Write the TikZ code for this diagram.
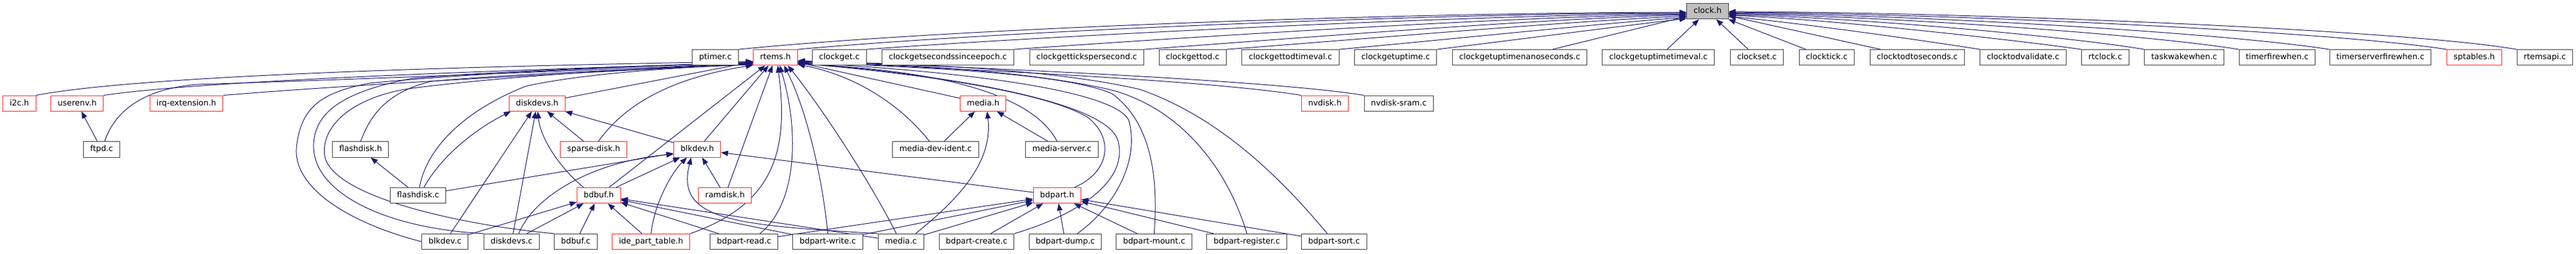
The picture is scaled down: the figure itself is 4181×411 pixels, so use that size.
\documentclass[tikz,border=0pt]{standalone}
\usepackage{fontspec}
\usetikzlibrary{arrows.meta,backgrounds}
\newfontfamily\dejavu{DejaVu Sans}
\definecolor{edgeblue}{RGB}{25,25,112}
\definecolor{boxgray}{RGB}{64,64,64}
\definecolor{truncred}{RGB}{255,40,40}
\definecolor{rootgray}{RGB}{191,191,191}
\begin{document}
\begin{tikzpicture}[
		x=0.75pt, y=-0.75pt,
		incbox/.style={draw=boxgray, line width=0.75pt, fill=white, minimum height=18.9pt,
			inner xsep=8.2pt, inner ysep=0pt, text height=7.2pt, text depth=2.1pt,
			font=\dejavu\fontsize{9.7pt}{11pt}\selectfont},
		truncbox/.style={incbox, draw=truncred},
		rootbox/.style={incbox, fill=rootgray},
		incl/.style={draw=edgeblue, line width=0.75pt, -{Triangle[length=8.5pt,width=6.5pt]}}
		]
		\useasboundingbox (0,0) rectangle (4181,411);
		% level 0
		\node[rootbox] (clockh) at (2771.5,18.3) {clock.h};
		% level 1
		\node[incbox] (ptimerc) at (1161,93.2) {ptimer.c};
		\node[truncbox] (rtemsh) at (1258.5,93.2) {rtems.h};
		\node[incbox] (clockgetc) at (1362.3,93.2) {clockget.c};
		\node[incbox] (cgsse) at (1538.4,93.2) {clockgetsecondssinceepoch.c};
		\node[incbox] (cgtps) at (1763.8,93.2) {clockgettickspersecond.c};
		\node[incbox] (cgtod) at (1935.7,93.2) {clockgettod.c};
		\node[incbox] (cgtodtv) at (2094.5,93.2) {clockgettodtimeval.c};
		\node[incbox] (cgup) at (2265.2,93.2) {clockgetuptime.c};
		\node[incbox] (cgupns) at (2466.5,93.2) {clockgetuptimenanoseconds.c};
		\node[incbox] (cguptv) at (2691.7,93.2) {clockgetuptimetimeval.c};
		\node[incbox] (cset) at (2851.6,93.2) {clockset.c};
		\node[incbox] (ctick) at (2964.9,93.2) {clocktick.c};
		\node[incbox] (ctts) at (3111.8,93.2) {clocktodtoseconds.c};
		\node[incbox] (ctv) at (3283.6,93.2) {clocktodvalidate.c};
		\node[incbox] (rtclock) at (3417,93.2) {rtclock.c};
		\node[incbox] (taskwake) at (3545,93.2) {taskwakewhen.c};
		\node[incbox] (timerfire) at (3696,93.2) {timerfirewhen.c};
		\node[incbox] (timerserver) at (3863.5,93.2) {timerserverfirewhen.c};
		\node[truncbox] (sptables) at (4015.8,93.2) {sptables.h};
		\node[incbox] (rtemsapi) at (4130.3,93.2) {rtemsapi.c};
		% level 2
		\node[truncbox] (i2ch) at (31.5,167.7) {i2c.h};
		\node[truncbox] (userenvh) at (125.2,167.7) {userenv.h};
		\node[truncbox] (irqexth) at (302.4,167.7) {irq-extension.h};
		\node[truncbox] (diskdevsh) at (871.9,167.7) {diskdevs.h};
		\node[truncbox] (mediah) at (1595.7,167.7) {media.h};
		\node[truncbox] (nvdiskh) at (2150.4,167.7) {nvdisk.h};
		\node[incbox] (nvdisksramc) at (2270.3,167.7) {nvdisk-sram.c};
		% level 3
		\node[incbox] (ftpdc) at (165,242.5) {ftpd.c};
		\node[incbox] (flashdiskh) at (585.3,242.5) {flashdisk.h};
		\node[truncbox] (sparsediskh) at (963.6,242.5) {sparse-disk.h};
		\node[truncbox] (blkdevh) at (1131.7,242.5) {blkdev.h};
		\node[incbox] (mediadevidentc) at (1518.5,242.5) {media-dev-ident.c};
		\node[incbox] (mediaserverc) at (1723.6,242.5) {media-server.c};
		% level 4
		\node[incbox] (flashdiskc) at (678.6,317) {flashdisk.c};
		\node[truncbox] (bdbufh) at (971.8,317) {bdbuf.h};
		\node[truncbox] (ramdiskh) at (1176.8,317) {ramdisk.h};
		\node[truncbox] (bdparth) at (1715.8,317) {bdpart.h};
		% level 5
		\node[incbox] (blkdevc) at (722.3,392) {blkdev.c};
		\node[incbox] (diskdevsc) at (830.3,392) {diskdevs.c};
		\node[incbox] (bdbufc) at (934.4,392) {bdbuf.c};
		\node[truncbox] (idepart) at (1056.7,392) {ide\_part\_table.h};
		\node[incbox] (bdpartreadc) at (1207.6,392) {bdpart-read.c};
		\node[incbox] (bdpartwritec) at (1343.5,392) {bdpart-write.c};
		\node[incbox] (mediac) at (1462.3,392) {media.c};
		\node[incbox] (bdpartcreatec) at (1585,392) {bdpart-create.c};
		\node[incbox] (bdpartdumpc) at (1729,392) {bdpart-dump.c};
		\node[incbox] (bdpartmountc) at (1873.2,392) {bdpart-mount.c};
		\node[incbox] (bdpartregisterc) at (2023.6,392) {bdpart-register.c};
		\node[incbox] (bdpartsortc) at (2165.2,392) {bdpart-sort.c};

		\begin{scope}[on background layer]
		% into clock.h
		\draw[incl] (ptimerc.north east) .. controls (1550,45) and (2300,20) .. (clockh.183);
		\draw[incl] (rtemsh.north east) .. controls (1650,48) and (2350,22) .. (clockh.184);
		\draw[incl] (clockgetc.north east) .. controls (1700,58) and (2400,24) .. (clockh.186);
		\draw[incl] (cgsse.north east) .. controls (1900,62) and (2450,27) .. (clockh.188);
		\draw[incl] (cgtps.north east) .. controls (2050,66) and (2500,30) .. (clockh.190);
		\draw[incl] (cgtod.north east) .. controls (2180,66) and (2550,34) .. (clockh.193);
		\draw[incl] (cgtodtv.north east) .. controls (2350,64) and (2600,38) .. (clockh.196);
		\draw[incl] (cgup.north east) .. controls (2480,62) and (2650,40) .. (clockh.199);
		\draw[incl] (cgupns) -- (clockh);
		\draw[incl] (cguptv) -- (clockh);
		\draw[incl] (cset) -- (clockh);
		\draw[incl] (ctick) -- (clockh);
		\draw[incl] (ctts) -- (clockh);
		\draw[incl] (ctv.north west) .. controls (3100,62) and (2900,35) .. (clockh.-14);
		\draw[incl] (rtclock.north west) .. controls (3250,62) and (2950,30) .. (clockh.-11);
		\draw[incl] (taskwake.north west) .. controls (3350,58) and (3000,28) .. (clockh.-9);
		\draw[incl] (timerfire.north west) .. controls (3480,55) and (3050,26) .. (clockh.-7);
		\draw[incl] (timerserver.north west) .. controls (3600,52) and (3100,24) .. (clockh.-5);
		\draw[incl] (sptables.north west) .. controls (3780,50) and (3150,22) .. (clockh.-3);
		\draw[incl] (rtemsapi.north west) .. controls (3900,48) and (3200,20) .. (clockh.-1);

		% into rtems.h, from the left
		\draw[incl] (i2ch.north east) .. controls (250,118) and (900,105) .. (rtemsh.190);
		\draw[incl] (userenvh.north east) .. controls (350,128) and (900,112) .. (rtemsh.192);
		\draw[incl] (ftpdc.70) .. controls (185,185) and (225,145) .. (320,137) .. controls (600,128) and (1000,112) .. (rtemsh.194);
		\draw[incl] (irqexth.north east) .. controls (600,135) and (1000,115) .. (rtemsh.196);
		\draw[incl] (flashdiskh.north) .. controls (600,190) and (625,150) .. (700,132) .. controls (850,118) and (1100,110) .. (rtemsh.197);
		\draw[incl] (flashdiskc.80) .. controls (690,250) and (740,185) .. (853,140) .. controls (950,118) and (1120,108) .. (rtemsh.198);
		\draw[incl] (blkdevc.west) .. controls (560,360) and (470,300) .. (482,233) .. controls (490,175) and (520,150) .. (600,135) .. controls (800,115) and (1100,106) .. (rtemsh.191);
		\draw[incl] (diskdevsc.north west) .. controls (620,370) and (505,310) .. (509,233) .. controls (512,180) and (560,148) .. (670,127) .. controls (850,112) and (1100,106) .. (rtemsh.193);
		\draw[incl] (bdbufc.north west) .. controls (750,365) and (540,320) .. (527,253) .. controls (520,200) and (580,155) .. (670,143) .. controls (850,120) and (1100,108) .. (rtemsh.195);
		\draw[incl] (diskdevsh) -- (rtemsh);
		\draw[incl] (sparsediskh.60) .. controls (1010,175) and (1080,128) .. (rtemsh.199);
		% into rtems.h, from below
		\draw[incl] (bdbufh) -- (rtemsh);
		\draw[incl] (blkdevh) -- (rtemsh);
		\draw[incl] (ramdiskh) -- (rtemsh);
		\draw[incl] (idepart.north east) .. controls (1260,330) and (1280,240) .. (rtemsh.-74);
		\draw[incl] (bdpartreadc.27) .. controls (1295,330) and (1297,210) .. (rtemsh.-62);
		\draw[incl] (bdpartwritec.north) .. controls (1335,290) and (1310,180) .. (rtemsh.-43);
		\draw[incl] (mediac.120) .. controls (1410,290) and (1330,170) .. (rtemsh.-33);
		% into rtems.h, from the right
		\draw[incl] (mediadevidentc.127) .. controls (1470,180) and (1400,125) .. (rtemsh.-17);
		\draw[incl] (mediah) -- (rtemsh);
		\draw[incl] (mediaserverc.121) .. controls (1680,160) and (1550,115) .. (rtemsh.-16);
		\draw[incl] (bdparth.25) .. controls (1800,280) and (1810,225) .. (1765,190) .. controls (1690,145) and (1450,115) .. (rtemsh.-15);
		\draw[incl] (bdpartcreatec.north east) .. controls (1760,345) and (1830,290) .. (1815,230) .. controls (1800,160) and (1500,118) .. (rtemsh.-14);
		\draw[incl] (bdpartdumpc.34) .. controls (1810,335) and (1850,260) .. (1832,195) .. controls (1805,140) and (1500,112) .. (rtemsh.-13);
		\draw[incl] (bdpartmountc.north) .. controls (1880,290) and (1870,200) .. (1805,152) .. controls (1720,115) and (1450,108) .. (rtemsh.-12);
		\draw[incl] (bdpartregisterc.north) .. controls (1995,280) and (1920,175) .. (1800,145) .. controls (1650,112) and (1450,104) .. (rtemsh.-11);
		\draw[incl] (bdpartsortc.130) .. controls (2080,290) and (1980,190) .. (1850,145) .. controls (1700,110) and (1450,102) .. (rtemsh.-10);
		\draw[incl] (nvdiskh.north west) .. controls (1950,128) and (1500,110) .. (rtemsh.-9);
		\draw[incl] (nvdisksramc.north west) .. controls (2050,128) and (1500,106) .. (rtemsh.-8);

		% userenv.h and flashdisk.h
		\draw[incl] (ftpdc) -- (userenvh);
		\draw[incl] (flashdiskc) -- (flashdiskh);

		% into diskdevs.h
		\draw[incl] (flashdiskc.54) .. controls (715,255) and (770,210) .. (diskdevsh.-163);
		\draw[incl] (blkdevc) -- (diskdevsh);
		\draw[incl] (diskdevsc) -- (diskdevsh);
		\draw[incl] (bdbufh.152) .. controls (915,278) and (878,230) .. (diskdevsh.-86);
		\draw[incl] (sparsediskh) -- (diskdevsh);
		\draw[incl] (blkdevh) -- (diskdevsh);

		% into blkdev.h
		\draw[incl] (flashdiskc) -- (blkdevh);
		\draw[incl] (diskdevsc.48) .. controls (865,320) and (960,262) .. (blkdevh.191);
		\draw[incl] (bdbufh) -- (blkdevh);
		\draw[incl] (idepart.north) .. controls (1062,330) and (1090,280) .. (blkdevh.-142);
		\draw[incl] (mediac.north west) .. controls (1200,365) and (1095,360) .. (blkdevh.-127);
		\draw[incl] (ramdiskh) -- (blkdevh);
		\draw[incl] (bdparth) -- (blkdevh);

		% into bdbuf.h
		\draw[incl] (blkdevc) -- (bdbufh);
		\draw[incl] (diskdevsc) -- (bdbufh);
		\draw[incl] (bdbufc) -- (bdbufh);
		\draw[incl] (idepart) -- (bdbufh);
		\draw[incl] (bdpartreadc) -- (bdbufh);
		\draw[incl] (bdpartwritec) -- (bdbufh);
		\draw[incl] (mediac) -- (bdbufh);

		% into media.h
		\draw[incl] (mediadevidentc) -- (mediah);
		\draw[incl] (mediac.29) .. controls (1560,320) and (1612,260) .. (mediah.-64);
		\draw[incl] (mediaserverc) -- (mediah);

		% into bdpart.h
		\draw[incl] (bdpartreadc) -- (bdparth);
		\draw[incl] (bdpartwritec) -- (bdparth);
		\draw[incl] (mediac) -- (bdparth);
		\draw[incl] (bdpartcreatec) -- (bdparth);
		\draw[incl] (bdpartdumpc) -- (bdparth);
		\draw[incl] (bdpartmountc) -- (bdparth);
		\draw[incl] (bdpartregisterc) -- (bdparth);
		\draw[incl] (bdpartsortc) -- (bdparth);
		\end{scope}
\end{tikzpicture}
\end{document}
